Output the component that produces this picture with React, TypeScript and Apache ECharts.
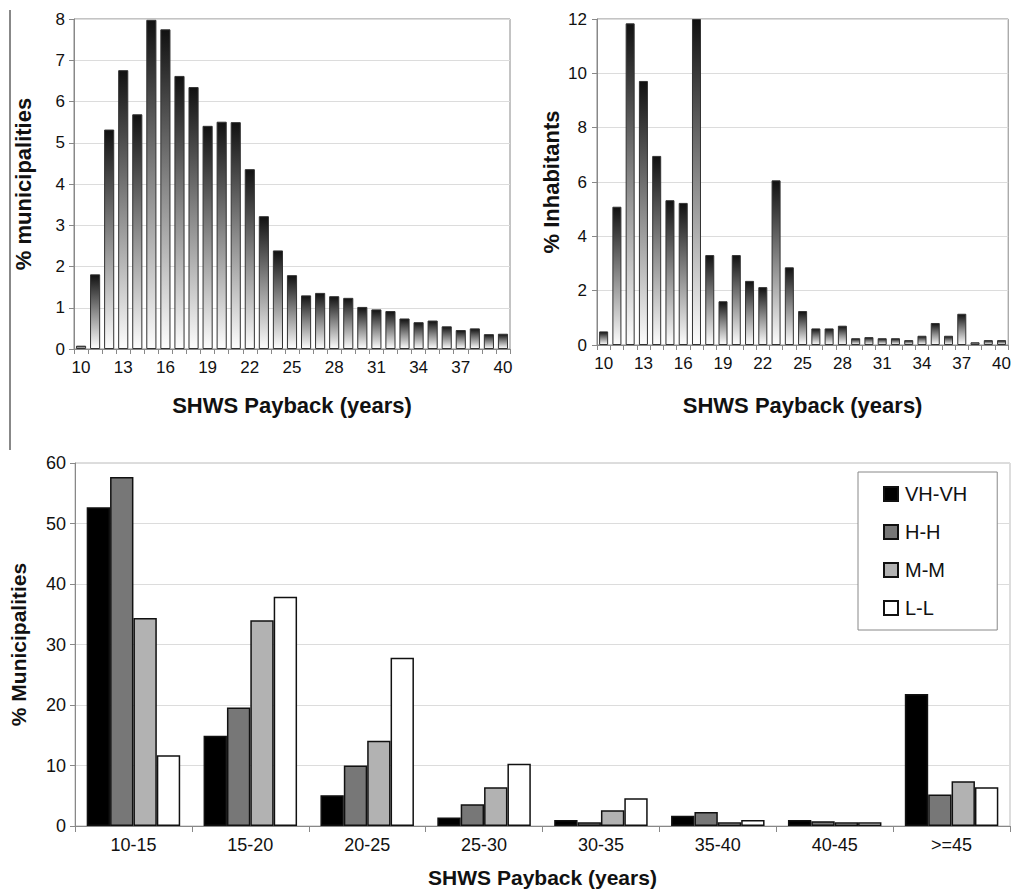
import React, { useEffect, useRef } from "react";
import * as echarts from "echarts";

const years = ["10","11","12","13","14","15","16","17","18","19","20","21","22","23","24","25","26","27","28","29","30","31","32","33","34","35","36","37","38","39","40"];
const pctMunicipalities = [0.08,1.81,5.32,6.76,5.69,7.98,7.75,6.62,6.35,5.41,5.51,5.5,4.36,3.22,2.39,1.79,1.3,1.36,1.28,1.24,1.02,0.96,0.92,0.74,0.65,0.69,0.55,0.46,0.5,0.36,0.37];
const pctInhabitants = [0.5,5.09,11.84,9.72,6.96,5.33,5.23,12,3.31,1.61,3.31,2.36,2.13,6.06,2.86,1.25,0.61,0.61,0.71,0.25,0.29,0.25,0.25,0.18,0.34,0.81,0.34,1.15,0.1,0.18,0.18];

const ranges = ["10-15","15-20","20-25","25-30","30-35","35-40","40-45",">=45"];
const vhvh = [52.7,14.9,5.1,1.4,1.0,1.7,1.0,21.8];
const hh = [57.7,19.6,10.0,3.6,0.6,2.3,0.8,5.2];
const mm = [34.4,34.0,14.1,6.4,2.6,0.6,0.6,7.4];
const ll = [11.7,37.9,27.8,10.3,4.6,1.0,0.6,6.4];

const FONT = "'Liberation Sans', Arial, sans-serif";

export default function App() {
  const ref = useRef<HTMLDivElement>(null);
  useEffect(() => {
    document.body.style.margin = "0";
    const chart = echarts.init(ref.current!, null, { renderer: "svg" });
    const grad = () =>
      new echarts.graphic.LinearGradient(0, 0, 0, 1, [
        { offset: 0, color: "#111" },
        { offset: 0.5, color: "#8a8a8a" },
        { offset: 1, color: "#fdfdfd" },
      ]);
    const axisLine = { lineStyle: { color: "#888", width: 1 } };
    const splitLine = { show: true, lineStyle: { color: "#dcdcdc", width: 1 } };
    const tickLbl = (size: number) => ({ color: "#111", fontSize: size, fontFamily: FONT });
    const nameStyle = (size: number) => ({ color: "#111", fontSize: size, fontWeight: "bold" as const, fontFamily: FONT });
    const catAxis = (gridIndex: number, data: string[], labelInterval: number, fs: number, nameFs: number, nameGap: number) => ({
      type: "category" as const,
      gridIndex,
      data,
      name: "SHWS Payback (years)",
      nameLocation: "middle" as const,
      nameGap,
      nameTextStyle: nameStyle(nameFs),
      axisLine,
      axisTick: { show: true, interval: 0, length: 5, lineStyle: { color: "#888" } },
      axisLabel: { ...tickLbl(fs), interval: labelInterval, margin: 10 },
      splitLine: { show: false },
    });
    const valAxis = (gridIndex: number, name: string, max: number, interval: number, fs: number, nameFs: number, nameGap: number, margin: number) => ({
      type: "value" as const,
      gridIndex,
      min: 0,
      max,
      interval,
      name,
      nameLocation: "middle" as const,
      nameGap,
      nameTextStyle: nameStyle(nameFs),
      axisLine: { show: true, ...axisLine },
      axisTick: { show: true, length: 5, lineStyle: { color: "#888" } },
      axisLabel: { ...tickLbl(fs), margin },
      splitLine,
    });
    const option = {
      animation: false,
      backgroundColor: "#fff",
      textStyle: { fontFamily: FONT },
      graphic: [
        { type: "line", shape: { x1: 10, y1: 10, x2: 10, y2: 450 }, style: { stroke: "#888", lineWidth: 2 } },
      ],
      grid: [
        { left: 74, top: 19, width: 436, height: 330, show: true, borderColor: "#888", borderWidth: 1, backgroundColor: "transparent" },
        { left: 597, top: 19, width: 413, height: 326, show: true, borderColor: "#888", borderWidth: 1, backgroundColor: "transparent" },
        { left: 74, top: 463, width: 936, height: 363, show: true, borderColor: "#bbb", borderWidth: 1, backgroundColor: "transparent" },
      ],
      xAxis: [
        catAxis(0, years, 2, 17, 22, 45),
        catAxis(1, years, 2, 17, 22, 49),
        { ...catAxis(2, ranges, 0, 18, 21, 41), axisTick: { show: true, interval: 0, length: 6, lineStyle: { color: "#888" } } },
      ],
      yAxis: [
        valAxis(0, "% municipalities", 8, 1, 17, 22, 40, 9),
        valAxis(1, "% Inhabitants", 12, 2, 17, 22, 35, 10),
        valAxis(2, "% Municipalities", 60, 10, 18, 21, 46, 9),
      ],
      legend: {
        data: ["VH-VH", "H-H", "M-M", "L-L"],
        orient: "vertical",
        left: 858,
        top: 472,
        padding: [12, 30, 12, 25],
        itemGap: 18,
        itemWidth: 14,
        itemHeight: 14,
        icon: "rect",
        borderColor: "#888",
        borderWidth: 1,
        backgroundColor: "#fff",
        textStyle: { color: "#111", fontSize: 20, fontFamily: FONT, padding: [0, 0, 0, 2] },
      },
      series: [
        {
          type: "bar", xAxisIndex: 0, yAxisIndex: 0, data: pctMunicipalities, barCategoryGap: "28%",
          itemStyle: { color: grad(), borderColor: "#333", borderWidth: 1 },
        },
        {
          type: "bar", xAxisIndex: 1, yAxisIndex: 1, data: pctInhabitants, barCategoryGap: "32%",
          itemStyle: { color: grad(), borderColor: "#333", borderWidth: 1 },
        },
        { name: "VH-VH", type: "bar", xAxisIndex: 2, yAxisIndex: 2, data: vhvh, barGap: "0%", barCategoryGap: "20%", itemStyle: { color: "#000", borderColor: "#111", borderWidth: 1.5 } },
        { name: "H-H", type: "bar", xAxisIndex: 2, yAxisIndex: 2, data: hh, barGap: "0%", barCategoryGap: "20%", itemStyle: { color: "#777", borderColor: "#111", borderWidth: 1.5 } },
        { name: "M-M", type: "bar", xAxisIndex: 2, yAxisIndex: 2, data: mm, barGap: "0%", barCategoryGap: "20%", itemStyle: { color: "#b2b2b2", borderColor: "#111", borderWidth: 1.5 } },
        { name: "L-L", type: "bar", xAxisIndex: 2, yAxisIndex: 2, data: ll, barGap: "0%", barCategoryGap: "20%", itemStyle: { color: "#fff", borderColor: "#111", borderWidth: 1.5 } },
      ],
    };
    chart.setOption(option as any);
    return () => chart.dispose();
  }, []);
  return <div ref={ref} style={{ width: 1014, height: 889 }} />;
}
